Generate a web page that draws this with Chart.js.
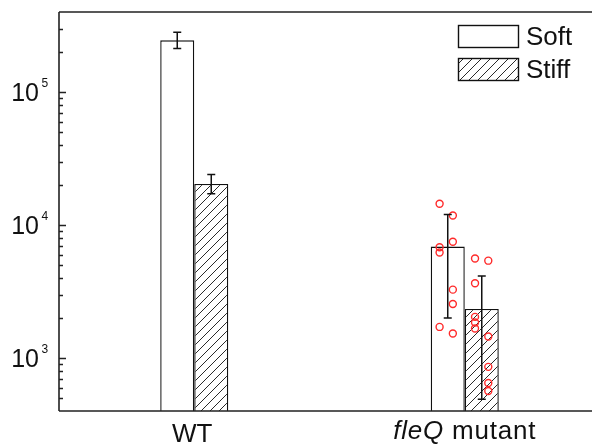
<!DOCTYPE html>
<html>
<head>
<meta charset="utf-8">
<script src="https://cdn.jsdelivr.net/npm/chart.js@4/dist/chart.umd.min.js"></script>
<style>
  html, body { margin: 0; padding: 0; background: #fff; overflow: hidden; }
  #wrap { position: absolute; left: 0; top: 0; width: 610px; height: 444px; }
</style>
</head>
<body>
<div id="wrap"><canvas id="c" width="610" height="444"></canvas></div>
<script>
// ---- data ----
const categories = ['WT', 'fleQ mutant'];
const seriesNames = ['Soft', 'Stiff'];
const softMeans = [245000, 6900];
const stiffMeans = [20400, 2340];
const softUpper = [282000, 12000];
const softLower = [213000, 2000];
const stiffUpper = [24000, 4140];
const stiffLower = [17200, 490];
// individual replicate points (fleQ mutant only)
const softPoints = [14450, 11800, 7500, 6820, 6220, 3270, 2550, 1715, 1530];
const softJitter = [-0.093, -0.044, -0.044, -0.093, -0.093, -0.044, -0.044, -0.093, -0.044];
const stiffPoints = [5610, 5400, 3650, 2040, 1850, 1667, 1452, 859, 649, 565];
const stiffJitter = [0.038, 0.087, 0.038, 0.038, 0.038, 0.038, 0.087, 0.087, 0.087, 0.087];
const pointCategory = 1;
const yMin = 400, yMax = 400000;
const yTickExponents = [3, 4, 5];

// ---- hatch pattern ----
function makeHatch() {
  const s = 9;
  const pc = document.createElement('canvas');
  pc.width = s; pc.height = s;
  const p = pc.getContext('2d');
  p.fillStyle = '#fff'; p.fillRect(0, 0, s, s);
  p.strokeStyle = '#2a2a2a'; p.lineWidth = 1;
  p.beginPath();
  p.moveTo(0, s); p.lineTo(s, 0);
  p.moveTo(-2, 2); p.lineTo(2, -2);
  p.moveTo(s - 2, s + 2); p.lineTo(s + 2, s - 2);
  p.stroke();
  return document.getElementById('c').getContext('2d').createPattern(pc, 'repeat');
}
const hatch = makeHatch();

const errorSets = [
  { upper: softUpper, lower: softLower },
  { upper: stiffUpper, lower: stiffLower }
];

const FONT = '"Liberation Sans", Arial, sans-serif';

const customPlugin = {
  id: 'custom',
  afterDatasetsDraw(chart) {
    const ctx = chart.ctx;
    const y = chart.scales.y;
    ctx.save();
    ctx.strokeStyle = '#111';
    ctx.lineWidth = 1.5;
    [0, 1].forEach(di => {
      const meta = chart.getDatasetMeta(di);
      meta.data.forEach((el, i) => {
        const x = el.x;
        const yt = y.getPixelForValue(errorSets[di].upper[i]);
        const yb = y.getPixelForValue(errorSets[di].lower[i]);
        ctx.beginPath();
        ctx.moveTo(x, yt); ctx.lineTo(x, yb);
        ctx.moveTo(x - 4, yt); ctx.lineTo(x + 4, yt);
        ctx.moveTo(x - 4, yb); ctx.lineTo(x + 4, yb);
        ctx.stroke();
      });
    });
    ctx.restore();
  },
  afterDraw(chart) {
    const ctx = chart.ctx;
    const a = chart.chartArea;
    const y = chart.scales.y;
    const x = chart.scales.x;
    ctx.save();
    // frame
    ctx.strokeStyle = '#222';
    ctx.lineWidth = 1.6;
    ctx.beginPath();
    ctx.moveTo(a.left, a.top); ctx.lineTo(a.right, a.top);
    ctx.moveTo(a.left, a.top); ctx.lineTo(a.left, a.bottom);
    ctx.moveTo(a.left, a.bottom); ctx.lineTo(a.right, a.bottom);
    ctx.moveTo(a.right, a.top); ctx.lineTo(a.right, a.bottom);
    ctx.stroke();
    // inward ticks
    ctx.lineWidth = 1.3;
    ctx.beginPath();
    for (let d = 2; d <= 5; d++) {
      for (let m = 1; m <= 9; m++) {
        const v = m * Math.pow(10, d);
        if (v <= yMin || v >= yMax) continue;
        const py = Math.round(y.getPixelForValue(v)) + 0.5;
        const len = m === 1 ? 7 : 4;
        ctx.moveTo(a.left, py); ctx.lineTo(a.left + len, py);
      }
    }
    ctx.stroke();
    // y labels
    ctx.fillStyle = '#111';
    yTickExponents.forEach(e => {
      const py = y.getPixelForValue(Math.pow(10, e));
      ctx.font = '25px ' + FONT;
      ctx.textAlign = 'right';
      ctx.textBaseline = 'alphabetic';
      ctx.fillText('10', 39, py + 9);
      ctx.font = '12px ' + FONT;
      ctx.textAlign = 'left';
      ctx.fillText(String(e), 41.5, py - 5.3);
    });
    // x labels
    ctx.textAlign = 'left';
    const cx0 = x.getPixelForValue(0);
    ctx.font = '26px ' + FONT;
    const w0 = ctx.measureText(categories[0]).width;
    ctx.fillText(categories[0], cx0 - w0 / 2 - 2, 442);
    const cx1 = x.getPixelForValue(1);
    const parts = categories[1].split(' ');
    ctx.letterSpacing = '0.8px';
    ctx.font = 'italic 26px ' + FONT;
    const wa = ctx.measureText(parts[0]).width;
    ctx.font = '26px ' + FONT;
    const wb = ctx.measureText(' ' + parts[1]).width;
    let sx = cx1 - (wa + wb) / 2;
    ctx.font = 'italic 26px ' + FONT;
    ctx.fillText(parts[0], sx, 439);
    ctx.font = '26px ' + FONT;
    ctx.fillText(' ' + parts[1], sx + wa, 439);
    ctx.letterSpacing = '0px';
    // legend
    const fills = ['#fff', hatch];
    const boxX = 458.5, boxW = 60, boxH = 22;
    const boxYs = [25.5, 58.5];
    ctx.lineWidth = 1.4;
    ctx.strokeStyle = '#111';
    seriesNames.forEach((name, i) => {
      ctx.fillStyle = fills[i];
      ctx.fillRect(boxX, boxYs[i], boxW, boxH);
      ctx.strokeRect(boxX, boxYs[i], boxW, boxH);
      ctx.fillStyle = '#111';
      ctx.font = '26px ' + FONT;
      ctx.textBaseline = 'middle';
      ctx.fillText(name, 526, boxYs[i] + boxH / 2 + 1);
    });
    ctx.restore();
  }
};

new Chart(document.getElementById('c'), {
  type: 'bar',
  data: {
    datasets: [
      {
        label: seriesNames[0], data: softMeans.map((v, i) => ({ x: i, y: v })),
        backgroundColor: '#fff', borderColor: '#111', borderWidth: 1.4,
        categoryPercentage: 0.2515, barPercentage: 1.0, order: 2
      },
      {
        label: seriesNames[1], data: stiffMeans.map((v, i) => ({ x: i, y: v })),
        backgroundColor: hatch, borderColor: '#111', borderWidth: 1.4,
        categoryPercentage: 0.2515, barPercentage: 1.0, order: 2
      },
      {
        type: 'scatter', label: 'Soft points',
        data: softPoints.map((v, i) => ({ x: pointCategory + softJitter[i], y: v })),
        pointStyle: 'circle', pointRadius: 3.5, pointBorderWidth: 1.4,
        borderColor: '#ff2a2a', backgroundColor: 'rgba(0,0,0,0)', order: 1
      },
      {
        type: 'scatter', label: 'Stiff points',
        data: stiffPoints.map((v, i) => ({ x: pointCategory + stiffJitter[i], y: v })),
        pointStyle: 'circle', pointRadius: 3.5, pointBorderWidth: 1.4,
        borderColor: '#ff2a2a', backgroundColor: 'rgba(0,0,0,0)', order: 1
      }
    ]
  },
  options: {
    responsive: false,
    devicePixelRatio: 1,
    animation: false,
    layout: { padding: { left: 59, top: 12, right: 10, bottom: 33 } },
    plugins: { legend: { display: false }, tooltip: { enabled: false } },
    scales: {
      x: {
        type: 'linear', display: false, min: -0.5, max: 1.5, offset: false,
        afterBuildTicks: s => { s.ticks = categories.map((c, i) => ({ value: i })); }
      },
      y: { type: 'logarithmic', display: false, min: yMin, max: yMax }
    }
  },
  plugins: [customPlugin]
});
</script>
</body>
</html>
